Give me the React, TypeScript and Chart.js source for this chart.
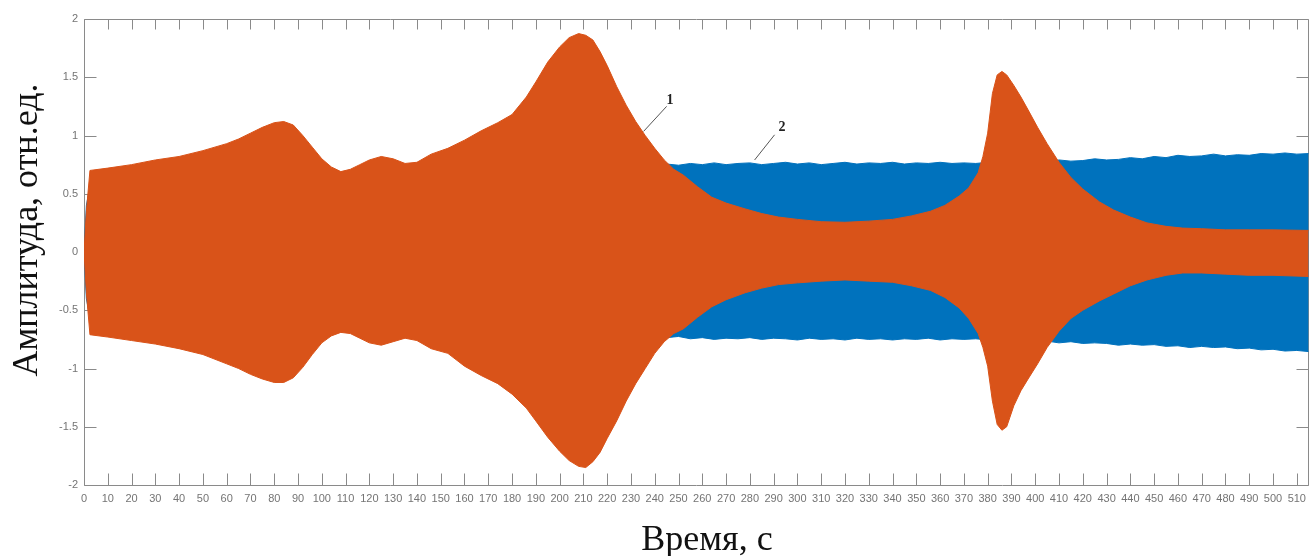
import React, { useEffect, useRef } from "react";
import { Chart, registerables } from "chart.js";

Chart.register(...registerables);

// ---------- data ----------
const X_MIN = 0;
const X_MAX = 515;
const X_STEP = 10;
const Y_MIN = -2;
const Y_MAX = 2;
const Y_STEP = 0.5;

// Series 1 (orange) envelope
const S1_T = [
  0, 1, 2.5, 10, 20, 30, 40, 50, 60, 65, 70, 75, 80, 84, 88, 92, 96, 100, 104, 108,
  112, 116, 120, 125, 130, 135, 140, 146, 153, 160, 167, 174, 180, 186, 190, 195, 200,
  204, 208, 211, 214, 217, 220, 224, 228, 232, 236, 240, 244, 248, 252, 258, 264, 270,
  278, 285, 292, 300, 310, 320, 330, 340, 348, 356, 362, 368, 372, 376, 378, 380, 382,
  384, 386, 388, 391, 394, 397, 401, 405, 410, 415, 420, 427, 433, 440, 447, 455, 462,
  470, 480, 490, 500, 515,
];
const S1_UPPER = [
  0, 0.35, 0.7, 0.72, 0.75, 0.79, 0.82, 0.87, 0.93, 0.97, 1.02, 1.07, 1.11, 1.12, 1.09,
  1.0, 0.9, 0.8, 0.73, 0.69, 0.71, 0.75, 0.79, 0.82, 0.8, 0.76, 0.77, 0.84, 0.89, 0.96,
  1.04, 1.11, 1.18, 1.33, 1.46, 1.63, 1.76, 1.84, 1.875, 1.86, 1.82, 1.72, 1.6, 1.42,
  1.26, 1.12, 1.0, 0.89, 0.79, 0.71, 0.66, 0.56, 0.47, 0.42, 0.37, 0.33, 0.3, 0.28, 0.26,
  0.255, 0.265, 0.28, 0.31, 0.35, 0.4, 0.48, 0.55, 0.68, 0.82, 1.02, 1.36, 1.52, 1.55,
  1.52, 1.43, 1.33, 1.22, 1.07, 0.93, 0.77, 0.64, 0.54, 0.43, 0.36, 0.3, 0.25, 0.22,
  0.205, 0.2, 0.19, 0.19, 0.19, 0.185,
];
const S1_LOWER = [
  0, -0.35, -0.71, -0.73, -0.76, -0.79, -0.83, -0.88, -0.96, -1.0, -1.05, -1.09, -1.12,
  -1.12, -1.08, -0.99, -0.88, -0.78, -0.72, -0.69, -0.7, -0.74, -0.78, -0.8, -0.77, -0.74,
  -0.76, -0.83, -0.87, -0.98, -1.06, -1.13, -1.22, -1.34, -1.45, -1.59, -1.71, -1.79,
  -1.84, -1.85, -1.8, -1.72, -1.6, -1.45, -1.28, -1.13, -1.0, -0.87, -0.77, -0.7, -0.66,
  -0.56, -0.47, -0.41, -0.35, -0.31, -0.28, -0.265, -0.25, -0.24, -0.25, -0.26, -0.29,
  -0.33, -0.39, -0.48, -0.57, -0.7, -0.82, -0.98, -1.28, -1.48, -1.53, -1.5, -1.32, -1.19,
  -1.09, -0.96, -0.82, -0.68, -0.57, -0.5, -0.42, -0.36, -0.29, -0.24, -0.2, -0.18, -0.18,
  -0.19, -0.2, -0.2, -0.21,
];

// Series 2 (blue) envelope
const S2_T = [
  0, 1, 3, 50, 100, 150, 200, 240, 245, 250, 255, 260, 265, 270, 275, 280, 285, 290, 295,
  300, 305, 310, 315, 320, 325, 330, 335, 340, 345, 350, 355, 360, 365, 370, 375, 380,
  385, 390, 395, 400, 405, 410, 415, 420, 425, 430, 435, 440, 445, 450, 455, 460, 465,
  470, 475, 480, 485, 490, 495, 500, 505, 510, 515,
];
const S2_UPPER = [
  0, 0.4, 0.62, 0.63, 0.63, 0.64, 0.66, 0.74, 0.755, 0.745, 0.76, 0.75, 0.765, 0.75,
  0.76, 0.765, 0.75, 0.76, 0.77, 0.755, 0.765, 0.75, 0.76, 0.77, 0.755, 0.765, 0.76, 0.77,
  0.755, 0.765, 0.76, 0.77, 0.76, 0.765, 0.76, 0.77, 0.765, 0.76, 0.775, 0.78, 0.77, 0.79,
  0.78, 0.785, 0.8, 0.79, 0.795, 0.81, 0.8, 0.82, 0.81, 0.83, 0.82, 0.825, 0.84, 0.825,
  0.835, 0.83, 0.845, 0.84, 0.85, 0.84, 0.845,
];
const S2_LOWER = [
  0, -0.4, -0.62, -0.63, -0.63, -0.64, -0.66, -0.73, -0.735, -0.725, -0.745, -0.735,
  -0.75, -0.74, -0.745, -0.735, -0.75, -0.74, -0.745, -0.755, -0.74, -0.75, -0.745, -0.755,
  -0.74, -0.75, -0.745, -0.755, -0.745, -0.75, -0.74, -0.755, -0.745, -0.75, -0.745,
  -0.755, -0.75, -0.765, -0.755, -0.77, -0.765, -0.78, -0.77, -0.785, -0.78, -0.785,
  -0.8, -0.79, -0.8, -0.795, -0.81, -0.805, -0.82, -0.81, -0.82, -0.815, -0.83, -0.825,
  -0.84, -0.835, -0.85, -0.845, -0.855,
];

// Curve labels "1" and "2" with leader lines (data coordinates)
const NOTE_TEXT = ["1", "2"];
const NOTE_X = [246.4, 293.5];
const NOTE_Y = [1.3, 1.07];
const NOTE_LINE_X0 = [235.3, 282.0];
const NOTE_LINE_Y0 = [1.035, 0.79];
const NOTE_LINE_X1 = [245.0, 290.4];
const NOTE_LINE_Y1 = [1.25, 1.006];

const X_TITLE = "Время, с";
const Y_TITLE = "Амплитуда, отн.ед.";

const ORANGE = "rgb(217,83,25)";
const BLUE = "rgb(0,114,189)";
const FRAME = "#8a8a8a";
const TICK_TEXT = "#747474";

const toPts = (t: number[], v: number[]) => t.map((x, i) => ({ x, y: v[i] }));

const decorPlugin = {
  id: "decor",
  beforeDatasetsDraw(chart: any) {
    const { ctx, chartArea: a, scales } = chart;
    const xs = scales.x;
    const ys = scales.y;
    const L = Math.round(a.left) + 0.5;
    const R = Math.round(a.right) - 0.5;
    const T = Math.round(a.top) + 0.5;
    const B = Math.round(a.bottom) + 0.5;
    ctx.save();
    ctx.strokeStyle = FRAME;
    ctx.lineWidth = 1;
    ctx.beginPath();
    ctx.moveTo(L, T);
    ctx.lineTo(R, T);
    ctx.lineTo(R, B);
    ctx.lineTo(L, B);
    ctx.closePath();
    xs.ticks.forEach((t: any) => {
      const px = Math.round(xs.getPixelForValue(t.value)) + 0.5;
      ctx.moveTo(px, B);
      ctx.lineTo(px, B - 12);
      ctx.moveTo(px, T);
      ctx.lineTo(px, T + 10);
    });
    ys.ticks.forEach((t: any) => {
      const py = Math.round(ys.getPixelForValue(t.value)) + 0.5;
      ctx.moveTo(L, py);
      ctx.lineTo(L + 12, py);
      ctx.moveTo(R, py);
      ctx.lineTo(R - 12, py);
    });
    ctx.stroke();
    ctx.restore();
  },
  afterDraw(chart: any) {
    const { ctx, scales } = chart;
    const xs = scales.x;
    const ys = scales.y;
    ctx.save();
    // axis titles
    ctx.fillStyle = "#111";
    ctx.font = "36px 'Liberation Serif', 'Times New Roman', serif";
    ctx.textAlign = "center";
    ctx.textBaseline = "alphabetic";
    ctx.fillText(X_TITLE, 707, 550);
    ctx.save();
    ctx.translate(37, 230);
    ctx.rotate(-Math.PI / 2);
    ctx.fillText(Y_TITLE, 0, 0);
    ctx.restore();
    // curve notes
    ctx.strokeStyle = "#555";
    ctx.lineWidth = 1;
    ctx.font = "bold 14px 'Liberation Serif', serif";
    ctx.textBaseline = "middle";
    for (let i = 0; i < NOTE_TEXT.length; i++) {
      ctx.beginPath();
      ctx.moveTo(xs.getPixelForValue(NOTE_LINE_X0[i]), ys.getPixelForValue(NOTE_LINE_Y0[i]));
      ctx.lineTo(xs.getPixelForValue(NOTE_LINE_X1[i]), ys.getPixelForValue(NOTE_LINE_Y1[i]));
      ctx.stroke();
      ctx.fillStyle = "#222";
      ctx.fillText(NOTE_TEXT[i], xs.getPixelForValue(NOTE_X[i]), ys.getPixelForValue(NOTE_Y[i]));
    }
    ctx.restore();
  },
};

export default function App() {
  const ref = useRef<HTMLCanvasElement | null>(null);
  useEffect(() => {
    if (!ref.current) return;
    const lineDs = (label: string, pts: any[], color: string, fill: any) => ({
      label,
      data: pts,
      borderColor: color,
      backgroundColor: color,
      borderWidth: 1,
      pointRadius: 0,
      tension: 0,
      fill,
    });
    const chart = new Chart(ref.current, {
      type: "line",
      data: {
        datasets: [
          lineDs("1 upper", toPts(S1_T, S1_UPPER), ORANGE, "+1"),
          lineDs("1 lower", toPts(S1_T, S1_LOWER), ORANGE, false),
          lineDs("2 upper", toPts(S2_T, S2_UPPER), BLUE, "+1"),
          lineDs("2 lower", toPts(S2_T, S2_LOWER), BLUE, false),
        ],
      },
      options: {
        animation: false,
        responsive: true,
        maintainAspectRatio: false,
        events: [],
        layout: { padding: { top: 19, right: 1, left: 0, bottom: 0 } },
        plugins: {
          legend: { display: false },
          tooltip: { enabled: false },
        },
        scales: {
          x: {
            type: "linear",
            min: X_MIN,
            max: X_MAX,
            grid: { display: false, drawTicks: false },
            border: { display: false },
            ticks: {
              stepSize: X_STEP,
              includeBounds: false,
              autoSkip: false,
              maxRotation: 0,
              padding: 7,
              color: TICK_TEXT,
              font: { family: "'Liberation Sans', Arial, sans-serif", size: 11 },
              callback: (v: any) => String(v),
            },
            afterFit: (s: any) => {
              s.height = 71;
            },
          },
          y: {
            type: "linear",
            min: Y_MIN,
            max: Y_MAX,
            grid: { display: false, drawTicks: false },
            border: { display: false },
            ticks: {
              stepSize: Y_STEP,
              padding: 6,
              color: TICK_TEXT,
              font: { family: "'Liberation Sans', Arial, sans-serif", size: 11 },
              callback: (v: any) => String(v),
            },
            afterFit: (s: any) => {
              s.width = 84;
            },
          },
        },
      },
      plugins: [decorPlugin],
    } as any);
    return () => chart.destroy();
  }, []);
  return (
    <div style={{ position: "fixed", left: 0, top: 0, width: 1313, height: 556, background: "#fff" }}>
      <canvas ref={ref} />
    </div>
  );
}
